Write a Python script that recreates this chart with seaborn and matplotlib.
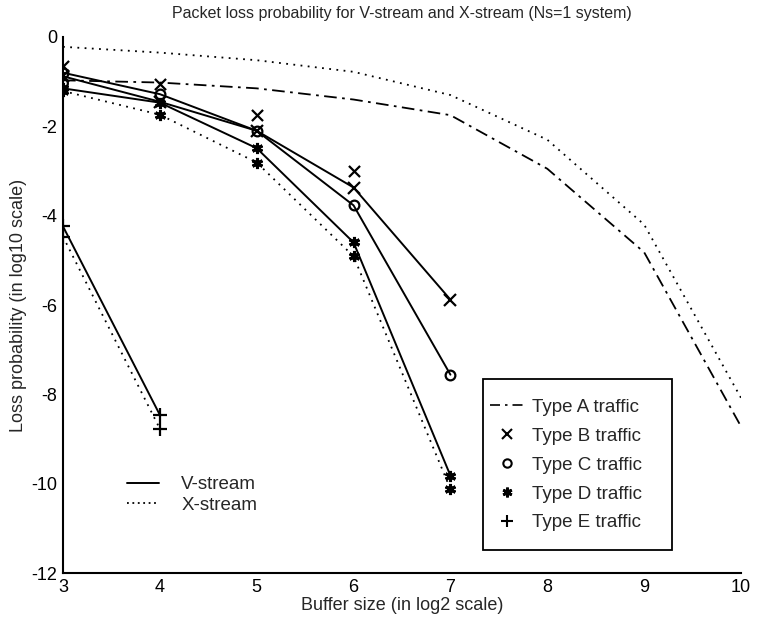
import numpy as np
import pandas as pd
import matplotlib
matplotlib.use("Agg")
import matplotlib.pyplot as plt
from matplotlib.lines import Line2D
from matplotlib.patches import Rectangle
import seaborn as sns

# ---- data (log10 loss probability vs log2 buffer size) ----
x_A = [3, 4, 5, 6, 7, 8, 9, 10]
A_v = [-0.97, -1.02, -1.15, -1.40, -1.75, -2.95, -4.82, -8.72]
A_x = [-0.22, -0.35, -0.52, -0.78, -1.30, -2.30, -4.20, -8.08]

x_B = [3, 4, 5, 6, 7]
B_v = [-0.88, -1.45, -2.10, -3.37, -5.88]
x_Bx = [3, 4, 5, 6]
B_x = [-0.65, -1.05, -1.75, -3.00]

x_C = [3, 4, 5, 6, 7]
C_v = [-0.80, -1.28, -2.10, -3.77, -7.56]
x_Cx = [3]
C_x = [-1.04]

x_D = [3, 4, 5, 6, 7]
D_v = [-1.15, -1.47, -2.49, -4.60, -9.82]
D_x = [-1.21, -1.74, -2.81, -4.91, -10.12]

x_E = [3, 4]
E_v = [-4.24, -8.46]
E_x = [-4.47, -8.77]

x_ticks = [3, 4, 5, 6, 7, 8, 9, 10]
y_ticks = [0, -2, -4, -6, -8, -10, -12]

sns.set_style("white")
plt.rcParams['font.family'] = ['Liberation Sans', 'DejaVu Sans']

fig = plt.figure(figsize=(7.58, 6.29), dpi=100)
ax = fig.add_axes([0.0831, 0.0890, 0.8945, 0.8522])

K = 'black'
ast = (6, 2, 0)

# Type A
sns.lineplot(x=x_A, y=A_v, ax=ax, color=K, lw=1.3, linestyle=(0, (7, 3, 1.5, 3)))
sns.lineplot(x=x_A, y=A_x, ax=ax, color=K, lw=1.3, linestyle=(0, (1, 3)))
# Type B
sns.lineplot(x=x_B, y=B_v, ax=ax, color=K, lw=1.4, marker='x', markersize=8,
             markeredgewidth=1.6, markeredgecolor=K)
sns.scatterplot(x=x_Bx, y=B_x, ax=ax, color=K, marker='x', s=64, linewidth=1.6)
# Type C
sns.lineplot(x=x_C, y=C_v, ax=ax, color=K, lw=1.4, marker='o', markersize=7,
             markerfacecolor='none', markeredgewidth=1.6, markeredgecolor=K)
sns.scatterplot(x=x_Cx, y=C_x, ax=ax, marker='o', s=49, facecolors='none',
                edgecolor=K, linewidth=1.6)
# Type D
sns.lineplot(x=x_D, y=D_v, ax=ax, color=K, lw=1.4, marker=ast, markersize=8,
             markeredgewidth=2.2, markeredgecolor=K)
sns.lineplot(x=x_D, y=D_x, ax=ax, color=K, lw=1.3, linestyle=(0, (1, 3)), marker=ast,
             markersize=8, markeredgewidth=2.2, markeredgecolor=K)
# Type E
sns.lineplot(x=x_E, y=E_v, ax=ax, color=K, lw=1.4, marker='+', markersize=10,
             markeredgewidth=1.6, markeredgecolor=K)
sns.lineplot(x=x_E, y=E_x, ax=ax, color=K, lw=1.3, linestyle=(0, (1, 3)), marker='+',
             markersize=10, markeredgewidth=1.6, markeredgecolor=K)

ax.set_xlim(3, 10)
ax.set_ylim(-12, 0)
ax.set_xticks(x_ticks)
ax.set_yticks(y_ticks)
ax.set_xticklabels([str(v) for v in x_ticks])
ax.set_yticklabels([str(v) for v in y_ticks])
for s in ['top', 'right']:
    ax.spines[s].set_visible(False)
for s in ['left', 'bottom']:
    ax.spines[s].set_color(K)
    ax.spines[s].set_linewidth(1.5)
ax.tick_params(direction='in', length=7, width=1.3, colors=K, labelsize=13, pad=4)

ax.set_title("Packet loss probability for V-stream and X-stream (Ns=1 system)",
             fontsize=11.5, pad=14)
ax.set_xlabel("Buffer size (in log2 scale)", fontsize=13, labelpad=1)
ax.set_ylabel("Loss probability (in log10 scale)", fontsize=13, labelpad=3)

# Legend 1: stream line styles
h1 = [Line2D([], [], color=K, lw=1.4),
      Line2D([], [], color=K, lw=1.3, linestyle=(0, (1, 2)))]
leg1 = ax.legend(h1, ['V-stream', 'X-stream'], loc='upper left',
                 bbox_to_anchor=(0.07, 0.212), frameon=False, fontsize=13.5,
                 handlelength=1.7, handletextpad=1.17, labelspacing=0.18)
ax.add_artist(leg1)

# Legend 2: traffic types (frame drawn as a separate box)
ax.add_patch(Rectangle((0.6195, 0.0429), 0.2788, 0.319, transform=ax.transAxes,
                       facecolor='white', edgecolor=K, linewidth=1.3, zorder=4))
h2 = [Line2D([], [], color=K, lw=1.2, linestyle=(0, (6, 3, 1.5, 3))),
      Line2D([], [], color=K, lw=0, marker='x', markersize=7, markeredgewidth=1.5),
      Line2D([], [], color=K, lw=0, marker='o', markersize=6, markerfacecolor='none',
             markeredgewidth=1.5),
      Line2D([], [], color=K, lw=0, marker=ast, markersize=7, markeredgewidth=2),
      Line2D([], [], color=K, lw=0, marker='+', markersize=8, markeredgewidth=1.5)]
leg2 = ax.legend(h2, ['Type A traffic', 'Type B traffic', 'Type C traffic',
                      'Type D traffic', 'Type E traffic'],
                 loc='center left', bbox_to_anchor=(0.6298, 0.2015), frameon=False,
                 fontsize=13.5, handlelength=1.76, handletextpad=0.48,
                 labelspacing=0.63, borderpad=0, borderaxespad=0)
leg2.set_zorder(5)

fig.savefig("out.png", dpi=100, facecolor='white')
